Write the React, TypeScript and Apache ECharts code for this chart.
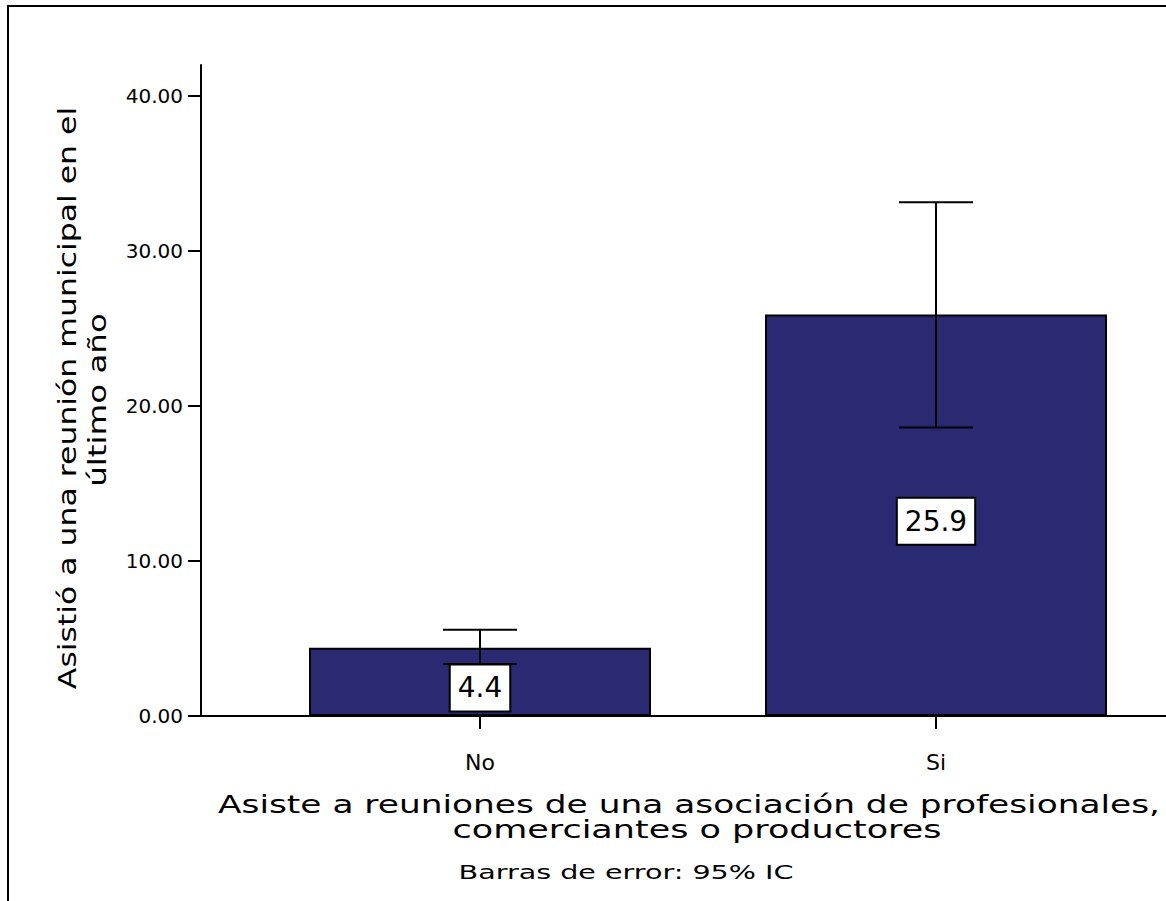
import { useEffect, useRef } from 'react';
import * as echarts from 'echarts';

const categories = ['No', 'Si'];
const means = [4.4, 25.9];
const ciLow = [3.36, 18.61];
const ciHigh = [5.56, 33.15];
const yTicks = [0, 10, 20, 30, 40];
const yTitleLines = ['Asistió a una reunión municipal en el', 'último año'];
const xTitleLines = ['Asiste a reuniones de una asociación de profesionales,', 'comerciantes o productores'];
const footnote = 'Barras de error: 95% IC';

const FONT = '"DejaVu Sans", Verdana, sans-serif';
const BAR = '#292a72';

export default function App() {
  const ref = useRef<HTMLDivElement>(null);
  useEffect(() => {
    if (!ref.current) return;
    const chart = echarts.init(ref.current, undefined, { renderer: 'svg' });
    const option: any = {
      animation: false,
      backgroundColor: '#fff',
      textStyle: { fontFamily: FONT },
      grid: [
        { left: 252, right: 2, top: 65, bottom: 185 },
        { left: 201, right: 0, top: 65, bottom: 185 },
      ],
      xAxis: [
        {
          type: 'category',
          gridIndex: 0,
          data: categories,
          axisLine: { show: false },
          axisTick: { show: true, alignWithLabel: true, length: 13, lineStyle: { color: '#000', width: 2 } },
          axisLabel: { margin: 35, fontSize: 22, color: '#000', fontFamily: FONT },
          splitLine: { show: false },
        },
        {
          type: 'value',
          gridIndex: 1,
          min: 0,
          max: 1,
          axisLine: { show: true, lineStyle: { color: '#000', width: 2 } },
          axisTick: { show: false },
          axisLabel: { show: false },
          splitLine: { show: false },
        },
      ],
      yAxis: [
        {
          type: 'value',
          gridIndex: 0,
          min: 0,
          max: 42,
          offset: 51,
          axisLine: { show: true, lineStyle: { color: '#000', width: 2 } },
          axisTick: { show: true, customValues: yTicks, length: 13, lineStyle: { color: '#000', width: 2 } },
          axisLabel: {
            customValues: yTicks,
            margin: 18,
            fontSize: 20,
            color: '#000',
            fontFamily: FONT,
            formatter: (v: number) => v.toFixed(2),
          },
          splitLine: { show: false },
        },
        {
          type: 'value',
          gridIndex: 1,
          min: 0,
          max: 1,
          show: false,
        },
      ],
      series: [
        {
          type: 'bar',
          xAxisIndex: 0,
          yAxisIndex: 0,
          data: means,
          barWidth: '75%',
          itemStyle: { color: BAR, borderColor: '#000', borderWidth: 2 },
          label: {
            show: true,
            position: 'inside',
            offset: [0, 6],
            formatter: (p: any) => Number(p.value).toFixed(1),
            fontSize: 28,
            color: '#000',
            fontFamily: FONT,
            backgroundColor: '#fff',
            borderColor: '#000',
            borderWidth: 2,
            padding: [9, 7, 8, 7],
          },
          z: 2,
        },
        {
          type: 'custom',
          xAxisIndex: 0,
          yAxisIndex: 0,
          z: 5,
          data: categories.map((_, i) => [i, ciLow[i], ciHigh[i]]),
          renderItem: (_params: any, api: any) => {
            const i = api.value(0);
            const lo = api.coord([i, api.value(1)]);
            const hi = api.coord([i, api.value(2)]);
            const half = 37;
            const style = { stroke: '#000', lineWidth: 2 };
            return {
              type: 'group',
              children: [
                { type: 'line', shape: { x1: lo[0], y1: lo[1], x2: hi[0], y2: hi[1] }, style },
                { type: 'line', shape: { x1: hi[0] - half, y1: hi[1], x2: hi[0] + half, y2: hi[1] }, style },
                { type: 'line', shape: { x1: lo[0] - half, y1: lo[1], x2: lo[0] + half, y2: lo[1] }, style },
              ],
            };
          },
        },
      ],
      graphic: [
        {
          type: 'rect',
          silent: true,
          shape: { x: 8, y: 6, width: 1400, height: 1200 },
          style: { fill: 'none', stroke: '#000', lineWidth: 2 },
        },
        {
          type: 'text',
          x: 68,
          y: 398,
          rotation: Math.PI / 2,
          scaleX: 1.26,
          style: { text: yTitleLines[0], font: `25px ${FONT}`, fill: '#000', textAlign: 'center', textVerticalAlign: 'middle' },
        },
        {
          type: 'text',
          x: 97,
          y: 400,
          rotation: Math.PI / 2,
          scaleX: 1.3,
          style: { text: yTitleLines[1], font: `25px ${FONT}`, fill: '#000', textAlign: 'center', textVerticalAlign: 'middle' },
        },
        {
          type: 'text',
          x: 689,
          y: 804,
          scaleX: 1.375,
          style: { text: xTitleLines[0], font: `25px ${FONT}`, fill: '#000', textAlign: 'center', textVerticalAlign: 'middle' },
        },
        {
          type: 'text',
          x: 697,
          y: 829,
          scaleX: 1.4,
          style: { text: xTitleLines[1], font: `25px ${FONT}`, fill: '#000', textAlign: 'center', textVerticalAlign: 'middle' },
        },
        {
          type: 'text',
          x: 626,
          y: 872,
          scaleX: 1.43,
          style: { text: footnote, font: `20px ${FONT}`, fill: '#000', textAlign: 'center', textVerticalAlign: 'middle' },
        },
      ],
    };
    chart.setOption(option);
    return () => chart.dispose();
  }, []);
  return <div ref={ref} style={{ position: 'absolute', left: 0, top: 0, width: 1166, height: 901 }} />;
}
